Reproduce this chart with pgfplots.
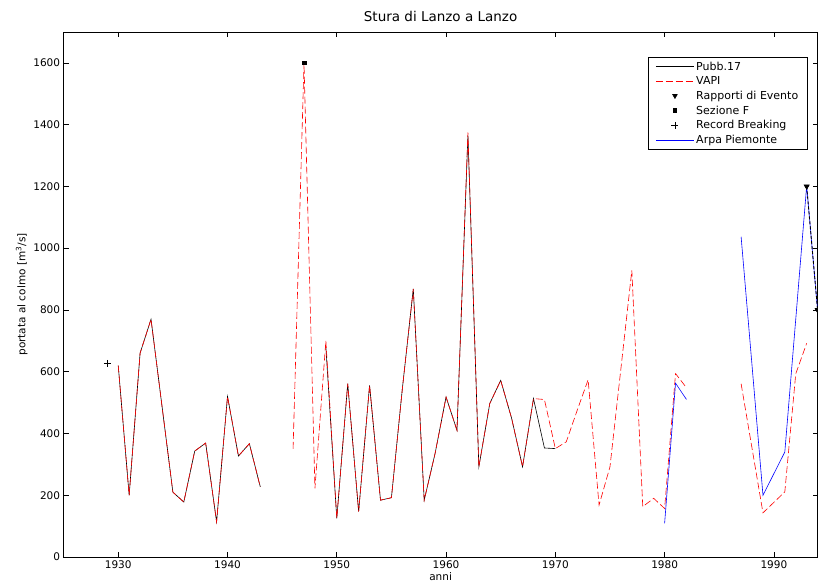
\documentclass[border=0pt]{standalone}
\usepackage{pgfplots}
\pgfplotsset{compat=1.18}
\usepackage{fontspec}
\setmainfont{DejaVu Sans}
\begin{document}
\begin{tikzpicture}
\path[use as bounding box] (-63.6bp,-28bp) rectangle (754.4bp,557bp);
\begin{axis}[at={(0,0)}, anchor=south west, scale only axis,
  width=754bp, height=525bp,
  xmin=1925, xmax=1994, ymin=0, ymax=1700,
  xtick={1930,1940,...,1990}, ytick={0,200,...,1600},
  tick align=inside, major tick length=5bp,
  axis line style={line width=0.7bp},
  tick style={line width=0.6bp,black},
  /pgf/number format/assume math mode=true,
  /pgf/number format/1000 sep={},
  font=\fontsize{10.5bp}{12bp}\selectfont,
  title={Stura di Lanzo a Lanzo},
  title style={font=\fontsize{13.5bp}{15bp}\selectfont, yshift=1bp},
  xlabel={anni}, ylabel={portata al colmo [m\textsuperscript{3}/s]},
  xlabel style={yshift=3bp},
  ylabel style={yshift=-1bp},
  unbounded coords=jump, clip=false,
  legend style={at={(0.9873,0.9524)}, anchor=north east, draw=black,
    line width=0.6bp, font=\fontsize{11bp}{12bp}\selectfont,
    cells={anchor=west}, row sep=0.9bp, inner ysep=2.5bp, inner xsep=7.5bp},
  legend image code/.code={\draw[mark repeat=2,mark phase=2,#1] plot coordinates {(0cm,0cm) (0.67cm,0cm) (1.34cm,0cm)};},
]
\addplot[black, line width=0.6bp, mark=none] table {
x y
1930 620
1931 200
1932 660
1933 770
1934 490
1935 210
1936 178
1937 343
1938 369
1939 114
1940 520
1941 327
1942 367
1943 227
1944 nan
1949 680
1950 125
1951 561
1952 147
1953 556
1954 184
1955 192
1956 545
1957 868
1958 184
1959 336
1960 518
1961 410
1962 1365
1963 292
1964 497
1965 572
1966 449
1967 292
1968 513
1969 353
1970 351
};
\addlegendentry{Pubb.17}
\addplot[red, line width=0.6bp, dash pattern=on 7bp off 3bp, mark=none] table {
x y
1930 620
1931 200
1932 660
1933 770
1934 490
1935 210
1936 178
1937 343
1938 369
1939 114
1940 520
1941 327
1942 367
1943 227
1944 nan
1946 350
1947 1600
1948 222
1949 700
1950 125
1951 561
1952 147
1953 556
1954 184
1955 192
1956 545
1957 868
1958 184
1959 336
1960 518
1961 410
1962 1375
1963 292
1964 497
1965 572
1966 449
1967 292
1968 513
1969 510
1970 351
1971 373
1972 475
1973 574
1974 168
1975 292
1976 610
1977 928
1978 163
1979 190
1980 157
1981 594
1982 548
1983 nan
1987 561
1988 352
1989 143
1990 177
1991 211
1992 593
1993 692
};
\addlegendentry{VAPI}
\addplot[black, only marks, mark=triangle*, mark size=2.6bp, mark options={rotate=180}] table {
x y
1993 1200
1994 800
};
\addlegendentry{Rapporti di Evento}
\addplot[black, only marks, mark=square*, mark size=1.8bp] table {
x y
1947 1600
};
\addlegendentry{Sezione F}
\addplot[black, only marks, mark=+, mark size=3.5bp, line width=0.6bp] table {
x y
1929 627
};
\addlegendentry{Record Breaking}
\addplot[blue, line width=0.6bp, mark=none] table {
x y
1980 109
1981 563
1982 510
1983 nan
1987 1037
1988 620
1989 200
1990 270
1991 340
1992 770
1993 1202
1994 798
};
\addlegendentry{Arpa Piemonte}
\addplot[black, line width=0.9bp, dash pattern=on 3bp off 2bp, forget plot,
  mark=triangle*, mark size=2.6bp, mark options={rotate=180,solid}] table {
x y
1993 1200
1994 800
};
\end{axis}
\end{tikzpicture}
\end{document}
